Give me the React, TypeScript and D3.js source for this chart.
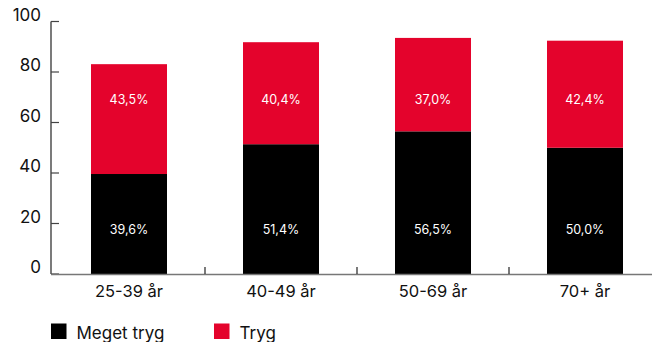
import * as d3 from "d3";

const categories = ["25-39 år", "40-49 år", "50-69 år", "70+ år"];
const megetTryg = [39.6, 51.4, 56.5, 50.0];
const tryg = [43.5, 40.4, 37.0, 42.4];
const yTicks = [0, 20, 40, 60, 80, 100];
const seriesNames = ["Meget tryg", "Tryg"];

const width = 652;
const height = 342;
const RED = "#e4032c";
const font = "Inter, 'Noto Sans', sans-serif";

const fmt = (v: number) => v.toFixed(1).replace(".", ",") + "%";

export default function App() {
  const x = d3
    .scaleBand<string>()
    .domain(categories)
    .range([53, 661])
    .paddingInner(0.5)
    .paddingOuter(0.25);
  const y = d3.scaleLinear([0, 100], [274, 21.5]);
  const step = x.step();

  return (
    <svg
      width={width}
      height={height}
      style={{ position: "absolute", left: 0, top: 0, display: "block" }}
      fontFamily={font}
    >
      {/* bars */}
      {categories.map((c, i) => (
        <g key={c}>
          <rect
            x={x(c)}
            width={x.bandwidth()}
            y={y(megetTryg[i])}
            height={y(0) - y(megetTryg[i])}
            fill="#000"
          />
          <rect
            x={x(c)}
            width={x.bandwidth()}
            y={y(megetTryg[i] + tryg[i])}
            height={y(megetTryg[i]) - y(megetTryg[i] + tryg[i])}
            fill={RED}
          />
          <text
            x={x(c)! + x.bandwidth() / 2}
            y={y(17.6)}
            dy="0.35em"
            textAnchor="middle"
            fill="#fff"
            fontSize={12.5}
          >
            {fmt(megetTryg[i])}
          </text>
          <text
            x={x(c)! + x.bandwidth() / 2}
            y={y(69.1)}
            dy="0.35em"
            textAnchor="middle"
            fill="#fff"
            fontSize={12.5}
          >
            {fmt(tryg[i])}
          </text>
        </g>
      ))}

      {/* y axis */}
      <line x1={51} x2={51} y1={y(100)} y2={y(0)} stroke="#222" strokeWidth={1.2} />
      {yTicks.map((t) => (
        <g key={t}>
          <line x1={51} x2={59} y1={y(t)} y2={y(t)} stroke="#444" strokeWidth={1.2} />
          <text
            x={41}
            y={y(t)}
            dy="-0.05em"
            textAnchor="end"
            fontSize={17}
            fill="#111"
          >
            {t}
          </text>
        </g>
      ))}

      {/* x axis */}
      <line x1={51} x2={652} y1={274.5} y2={274.5} stroke="#777" strokeWidth={1.5} />
      {categories.slice(1).map((c) => (
        <line
          key={c}
          x1={x(c)! - (step - x.bandwidth()) / 2}
          x2={x(c)! - (step - x.bandwidth()) / 2}
          y1={274}
          y2={267}
          stroke="#222"
          strokeWidth={1.2}
        />
      ))}
      {categories.map((c) => (
        <text
          key={c}
          x={x(c)! + x.bandwidth() / 2}
          y={297}
          textAnchor="middle"
          fontSize={16.5}
          fill="#111"
        >
          {c}
        </text>
      ))}

      {/* legend */}
      {seriesNames.map((s, i) => (
        <g key={s} transform={`translate(${51 + i * 163},323.5)`}>
          <rect width={15.5} height={15.5} fill={i === 0 ? "#000" : RED} />
          <text x={25.5} y={15.5} fontSize={17} fill="#111">
            {s}
          </text>
        </g>
      ))}
    </svg>
  );
}
